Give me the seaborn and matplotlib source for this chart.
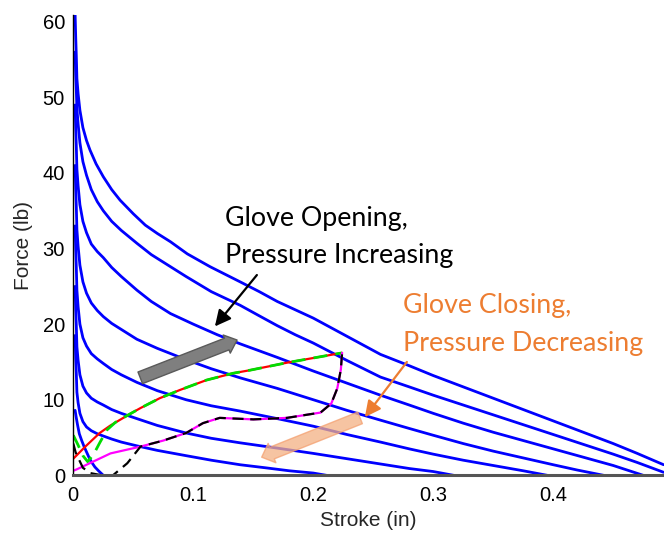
import numpy as np
import pandas as pd
import matplotlib
matplotlib.use('Agg')
import matplotlib.pyplot as plt
import seaborn as sns
from matplotlib.patches import FancyArrowPatch, ArrowStyle

# blue force-stroke curves at increasing pressure
a_stroke = [0.0015, 0.002, 0.0025, 0.003, 0.004, 0.0055, 0.008, 0.011, 0.014, 0.019, 0.025, 0.032, 0.039, 0.05, 0.06, 0.07,
            0.081, 0.095, 0.114, 0.139, 0.155, 0.17, 0.185, 0.2, 0.228, 0.256, 0.28, 0.3, 0.325, 0.35, 0.375, 0.4, 0.425,
            0.45, 0.47, 0.492]
a_force = [61, 58, 55.5, 52.5, 50.5, 48.3, 46, 44.3, 43, 41.2, 39.5, 37.8, 36.4, 34.6, 33.1, 32, 30.9, 29.3, 27.6, 25.6,
           24.3, 23, 21.9, 20.8, 18.4, 16, 14.5, 13.2, 11.7, 10.2, 8.7, 7.2, 5.7, 4.2, 2.9, 1.4]
b_stroke = [0.0015, 0.002, 0.0025, 0.003, 0.004, 0.0055, 0.008, 0.011, 0.015, 0.02, 0.025, 0.032, 0.04, 0.053, 0.065,
            0.08, 0.094, 0.115, 0.139, 0.155, 0.17, 0.185, 0.2, 0.228, 0.256, 0.28, 0.3, 0.325, 0.35, 0.375, 0.4, 0.425,
            0.45, 0.47, 0.492]
b_force = [56, 53, 51, 48.5, 46.5, 44, 41.5, 39.7, 37.8, 36.2, 35, 33.6, 32.4, 30.7, 29.2, 27.7, 26.3, 24.3, 22.5, 21.1,
           19.8, 18.6, 17.5, 15.2, 13.0, 11.7, 10.6, 9.3, 8.0, 6.7, 5.4, 4.1, 2.8, 1.7, 0.4]
c_stroke = [0.0015, 0.002, 0.0025, 0.003, 0.004, 0.0055, 0.008, 0.011, 0.015, 0.02, 0.025, 0.032, 0.04, 0.053, 0.065,
            0.081, 0.1, 0.12, 0.139, 0.17, 0.2, 0.228, 0.256, 0.28, 0.3, 0.325, 0.35, 0.375, 0.4, 0.425, 0.45, 0.475]
c_force = [49, 46, 43.5, 40.5, 38.3, 35.8, 33.6, 32.1, 30.6, 29.6, 28.8, 27.5, 26.3, 24.5, 23, 21.4, 20.0, 18.6, 17.4,
           15.6, 13.8, 12.2, 10.6, 9.3, 8.2, 6.9, 5.7, 4.6, 3.5, 2.4, 1.3, 0]
d_stroke = [0.0015, 0.002, 0.0025, 0.003, 0.004, 0.0055, 0.008, 0.011, 0.015, 0.02, 0.025, 0.032, 0.04, 0.053, 0.07,
            0.094, 0.115, 0.139, 0.17, 0.2, 0.228, 0.256, 0.28, 0.3, 0.325, 0.35, 0.375, 0.4, 0.42, 0.442]
d_force = [41, 38, 35.5, 32.5, 30.3, 27.8, 25.6, 24.1, 22.8, 21.8, 21, 20.1, 19.3, 18, 16.8, 15.3, 14.1, 12.9, 11.5, 10.0,
           8.6, 7.3, 6.2, 5.3, 4.2, 3.2, 2.3, 1.4, 0.7, 0]
e_stroke = [0.0015, 0.002, 0.0025, 0.003, 0.004, 0.0055, 0.008, 0.011, 0.015, 0.02, 0.025, 0.032, 0.04, 0.053, 0.07,
            0.094, 0.115, 0.139, 0.17, 0.2, 0.228, 0.256, 0.28, 0.3, 0.325, 0.35, 0.375, 0.395]
e_force = [33, 30, 27.5, 24.5, 22.3, 20, 18.2, 17.1, 16.1, 15.4, 14.8, 14.0, 13.3, 12.3, 11.2, 10.0, 9.2, 8.5, 7.5, 6.5,
           5.4, 4.4, 3.5, 2.8, 2.0, 1.3, 0.6, 0]
f_stroke = [0.0015, 0.002, 0.0025, 0.003, 0.004, 0.0055, 0.008, 0.011, 0.015, 0.02, 0.025, 0.032, 0.04, 0.053, 0.07,
            0.094, 0.115, 0.139, 0.17, 0.2, 0.228, 0.256, 0.28, 0.3, 0.317]
f_force = [25, 22, 19.8, 17, 15.2, 13.3, 11.8, 10.9, 10.2, 9.7, 9.3, 8.7, 8.2, 7.5, 6.6, 5.6, 4.9, 4.3, 3.6, 2.9, 2.2,
           1.5, 0.9, 0.5, 0]
g_stroke = [0.0015, 0.002, 0.0025, 0.003, 0.004, 0.0055, 0.008, 0.011, 0.015, 0.02, 0.025, 0.032, 0.04, 0.053, 0.07,
            0.094, 0.115, 0.139, 0.16, 0.18, 0.2, 0.211]
g_force = [18.5, 15.5, 13.5, 11, 9.6, 8.2, 7.1, 6.4, 5.9, 5.5, 5.2, 4.8, 4.4, 3.9, 3.3, 2.6, 2.0, 1.4, 1.0, 0.6, 0.3, 0]
h_stroke = [0.0015, 0.0025, 0.0035, 0.005, 0.007, 0.009, 0.011, 0.013, 0.015, 0.018, 0.021, 0.025]
h_force = [8.6, 7.6, 6.7, 5.5, 4.6, 3.8, 3.1, 2.4, 1.8, 1.1, 0.6, 0]

# opening / closing loops
red_stroke = [0, 0.01, 0.022, 0.031, 0.047, 0.056, 0.072, 0.089, 0.111, 0.133, 0.147, 0.178, 0.224]
red_force = [2.2, 3.8, 5.6, 6.6, 8.1, 8.9, 10.2, 11.3, 12.6, 13.5, 13.9, 14.9, 16.2]
green_stroke = [0, 0.004, 0.008, 0.012, 0.017, 0.022, 0.028, 0.035, 0.047, 0.056, 0.072, 0.089, 0.111, 0.133, 0.147,
                0.178, 0.224]
green_force = [5.3, 4.0, 2.6, 1.8, 2.8, 4.3, 6.0, 7.0, 8.1, 8.9, 10.2, 11.3, 12.6, 13.5, 13.9, 14.9, 16.2]
magenta_stroke = [0, 0.003, 0.031, 0.056, 0.075, 0.094, 0.108, 0.122, 0.15, 0.178, 0.206, 0.215, 0.22, 0.223, 0.224]
magenta_force = [0.6, 0.8, 2.9, 3.8, 4.6, 5.6, 6.9, 7.6, 7.4, 7.6, 8.3, 9.5, 11.5, 14.0, 16.2]
black_stroke = [0, 0.002, 0.008, 0.014, 0.024, 0.033, 0.045, 0.056, 0.075, 0.094, 0.108, 0.122, 0.15, 0.178, 0.206,
                0.215, 0.22, 0.223, 0.224]
black_force = [4.2, 3.0, 1.0, 0.3, 0, 0, 1.6, 3.8, 4.6, 5.6, 6.9, 7.6, 7.4, 7.6, 8.3, 9.5, 11.5, 14.0, 16.2]

y_ticks = [0, 10, 20, 30, 40, 50, 60]
x_ticks = [0, 0.1, 0.2, 0.3, 0.4]
x_tick_labels = ['0', '0.1', '0.2', '0.3', '0.4']

blue_df = pd.concat([
    pd.DataFrame({'stroke': s, 'force': f, 'curve': name})
    for name, s, f in [('a', a_stroke, a_force), ('b', b_stroke, b_force), ('c', c_stroke, c_force),
                       ('d', d_stroke, d_force), ('e', e_stroke, e_force), ('f', f_stroke, f_force),
                       ('g', g_stroke, g_force), ('h', h_stroke, h_force)]
])

sns.set_style('white')
plt.rcParams['font.family'] = ['Liberation Sans', 'DejaVu Sans']

fig = plt.figure(figsize=(6.64, 5.36), dpi=100)
ax = fig.add_axes([0.1104, 0.1132, 0.8896, 0.8588])

sns.lineplot(data=blue_df, x='stroke', y='force', units='curve', estimator=None, sort=False,
             color='#0000FF', linewidth=2.0, ax=ax)
sns.lineplot(x=red_stroke, y=red_force, sort=False, color='#FF0000', linewidth=1.6, ax=ax)
sns.lineplot(x=green_stroke, y=green_force, sort=False, color='#00DD00', linewidth=2.0, ax=ax,
             linestyle=(0, (5, 3)))
sns.lineplot(x=magenta_stroke, y=magenta_force, sort=False, color='#FF00FF', linewidth=1.6, ax=ax)
sns.lineplot(x=black_stroke, y=black_force, sort=False, color='black', linewidth=1.6, ax=ax,
             linestyle=(0, (5, 3)))

ax.set_xlim(0, 0.4923)
ax.set_ylim(0, 60.9)
ax.set_xticks(x_ticks)
ax.set_xticklabels(x_tick_labels)
ax.set_yticks(y_ticks)
ax.tick_params(direction='in', length=5, labelsize=14.5, colors='black', pad=6)
ax.tick_params(axis='x', pad=8)
for side in ['top', 'right']:
    ax.spines[side].set_visible(False)
ax.spines['left'].set_color('black')
ax.spines['left'].set_linewidth(1.0)
ax.spines['bottom'].set_color('#555555')
ax.spines['bottom'].set_linewidth(2.2)
ax.set_xlabel('Stroke (in)', fontsize=15, labelpad=4)
ax.set_ylabel('Force (lb)', fontsize=15, labelpad=7)

# big arrows
ax.add_patch(FancyArrowPatch((0.0558, 12.9), (0.1365, 17.9),
                             arrowstyle=ArrowStyle.Simple(head_length=8, head_width=14, tail_width=9),
                             fc='#7F7F7F', ec='#5A5A5A', lw=1, shrinkA=0, shrinkB=0, zorder=3))
ax.add_patch(FancyArrowPatch((0.239, 7.6), (0.157, 2.4),
                             arrowstyle=ArrowStyle.Simple(head_length=8, head_width=15, tail_width=9),
                             fc='#F4B183', ec='#F4A070', alpha=0.75, lw=1, shrinkA=0, shrinkB=0, zorder=3))

# annotations
text_font = ['Lato', 'DejaVu Sans']
ax.text(0.1264, 34.0, 'Glove Opening,', fontsize=19.3, family=text_font, color='black', va='center')
ax.text(0.1264, 29.1, 'Pressure Increasing', fontsize=19.3, family=text_font, color='black', va='center')
ax.annotate('', xy=(0.118, 19.7), xytext=(0.153, 26.5),
            arrowprops=dict(arrowstyle='-|>', color='black', lw=1.6, mutation_scale=24, shrinkA=0, shrinkB=0))
ax.text(0.2745, 22.5, 'Glove Closing,', fontsize=19.3, family=text_font, color='#ED7D31', va='center')
ax.text(0.2745, 17.5, 'Pressure Decreasing', fontsize=19.3, family=text_font, color='#ED7D31', va='center')
ax.annotate('', xy=(0.243, 7.7), xytext=(0.278, 15.0),
            arrowprops=dict(arrowstyle='-|>', color='#ED7D31', lw=1.6, mutation_scale=24, shrinkA=0, shrinkB=0))

fig.savefig('out.png', dpi=100)
